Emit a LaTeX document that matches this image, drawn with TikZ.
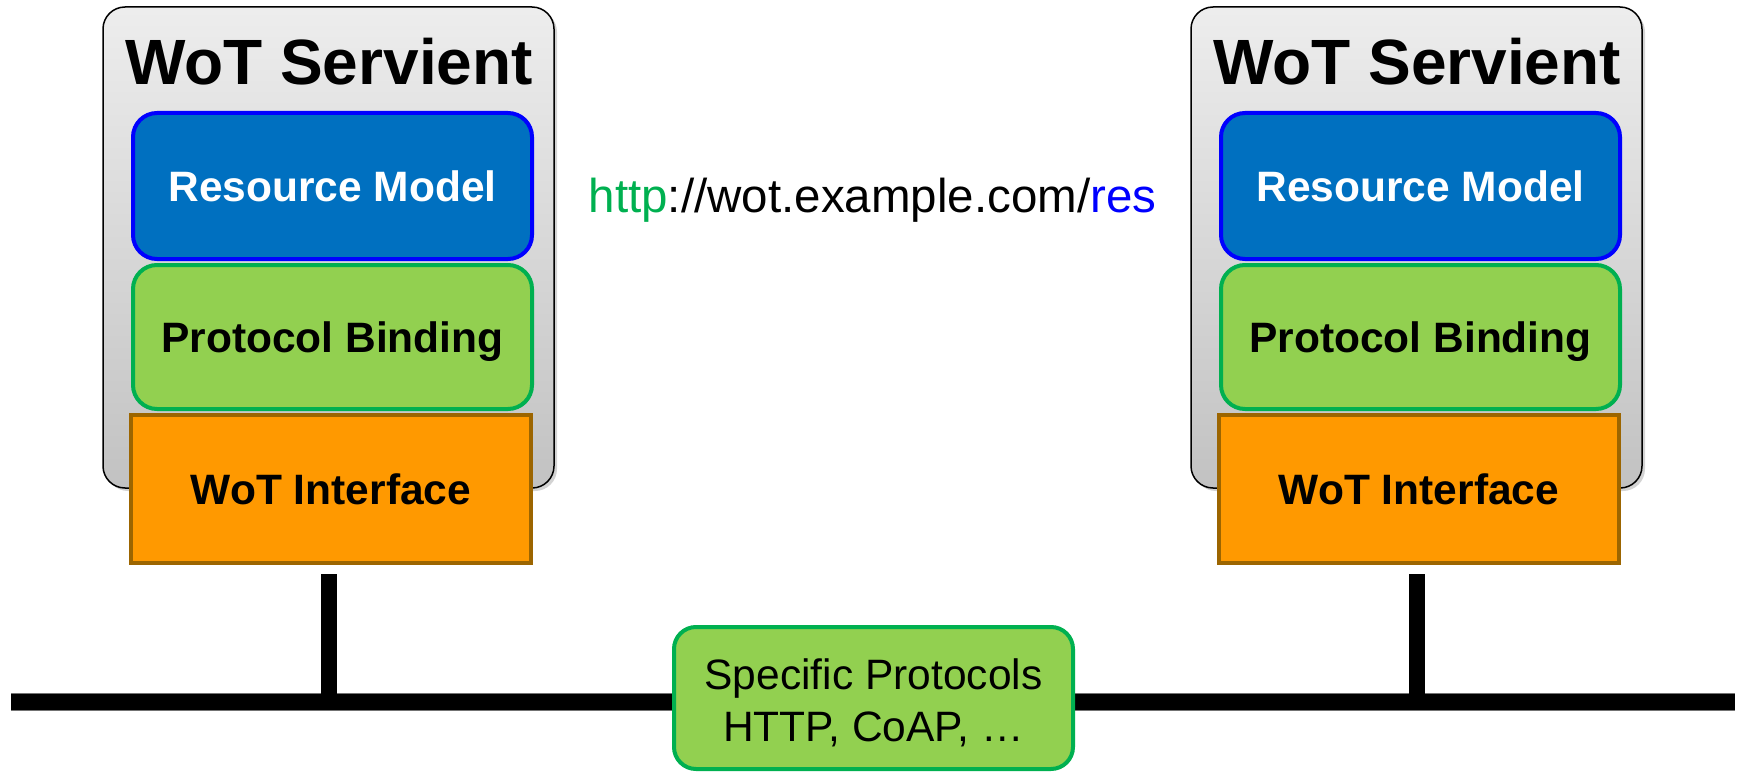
\documentclass[tikz,border=0pt]{standalone}
\usepackage{fontspec}
\setmainfont{Liberation Sans}
\usetikzlibrary{shadows}

\definecolor{rmfill}{HTML}{0070C0}
\definecolor{rmline}{HTML}{0000FF}
\definecolor{pbfill}{HTML}{92D050}
\definecolor{pbline}{HTML}{00B050}
\definecolor{iffill}{HTML}{FF9900}
\definecolor{ifline}{HTML}{9C6500}

\tikzset{
  servient/.style={draw=black, line width=1.5pt, rounded corners=22pt,
    top color=black!7, bottom color=black!24,
    minimum width=451pt, minimum height=481pt, inner sep=0pt,
    drop shadow={shadow xshift=3pt, shadow yshift=-3pt, opacity=0.35}},
  title/.style={font=\bfseries\fontsize{64}{72}\selectfont, anchor=base, inner sep=0pt},
  layer/.style={line width=4pt, minimum width=399pt, inner sep=0pt,
    text height=30pt, text depth=0pt, font=\bfseries\fontsize{42.5}{50}\selectfont},
  resmodel/.style={layer, draw=rmline, fill=rmfill, rounded corners=24pt,
    minimum height=146pt, text=white},
  binding/.style={layer, draw=pbline, fill=pbfill, rounded corners=24pt,
    minimum height=144pt},
  iface/.style={layer, draw=ifline, fill=iffill, minimum width=400pt,
    minimum height=148pt},
  wire/.style={line width=16pt, black},
  protobox/.style={draw=pbline, fill=pbfill, line width=4pt, rounded corners=22pt,
    minimum width=399pt, minimum height=142pt, inner sep=0pt, align=center,
    font=\fontsize{42.5}{52}\selectfont},
}

\begin{document}
\begin{tikzpicture}[x=1pt, y=-1pt]
  \useasboundingbox (0,0) rectangle (1741,773);

  % network bus
  \coordinate (busL) at (11,702);
  \coordinate (busR) at (1735,702);
  \draw[wire, draw=black!55, line width=17.5pt] (busL) -- (busR);
  \draw[wire] (busL) -- (busR);

  % the two servients
  \foreach \s/\dx in {L/0, R/1088} {
    \node[servient] (box\s) at (\dx+328.5,247.5) {};
    \node[title] (title\s) at (\dx+329,85) {WoT Servient};
    \node[resmodel] (rm\s) at (\dx+332.5,186) {Resource Model};
    \node[binding] (pb\s) at (\dx+332.5,337) {Protocol Binding};
    \node[iface] (if\s) at (\dx+331,489) {WoT Interface};
    \coordinate (stem\s) at (\dx+328.5,574);
    \draw[wire] (stem\s) -- (stem\s |- busL);
  }

  % resource address
  \node[font=\fontsize{47.5}{55}\selectfont, anchor=base, inner sep=0pt] (url)
    at (872.5,212) {\textcolor{pbline}{http}://wot.example.com/\textcolor{rmline}{res}};

  % protocol box on the bus
  \node[protobox] (proto) at (873.5,698)
    {\rule{0pt}{40pt}Specific Protocols\\HTTP, CoAP, …};
\end{tikzpicture}
\end{document}
